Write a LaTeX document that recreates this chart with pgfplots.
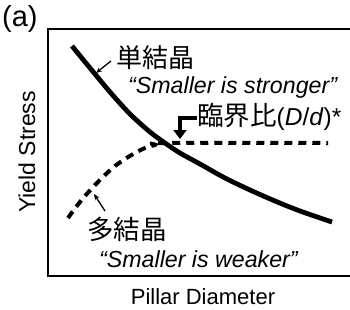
\documentclass[border=0pt]{standalone}
\usepackage{fontspec}
\setmainfont{Liberation Sans}
\newfontfamily\jp{Noto Sans CJK JP}
\usepackage{pgfplots}
\pgfplotsset{compat=1.18}
\usetikzlibrary{arrows.meta}
\begin{document}
\fontsize{22}{24}\selectfont
\begin{tikzpicture}[x=1pt,y=-1pt]
\useasboundingbox (0,0) rectangle (350,309);
\begin{axis}[
  at={(48pt,-276pt)}, anchor=south west,
  scale only axis, width=310pt, height=247pt,
  xmin=0, xmax=310, ymin=0, ymax=247,
  hide axis,
  clip=false,
]
\draw[line width=2pt, line cap=rect] (axis cs:310,247) -- (axis cs:0,247) -- (axis cs:0,0) -- (axis cs:310,0);
\addplot[black, line width=4.8pt, smooth, line cap=butt] coordinates {
(24,230) (42,208) (62,184) (82,162) (102,144) (117,133) (132,123)
(152,112) (177,98) (202,86) (227,75) (252,65) (284,54)};
\addplot[black, line width=4pt, smooth, dash pattern=on 8pt off 6pt] coordinates {
(20,58) (28,69) (37,80) (47,91) (57,101) (67,110) (77,117) (87,123) (97,128) (107,131) (117,133) (280,133)};
\end{axis}
% annotation arrows
\draw[line width=1.3pt, -{Stealth[length=6pt,width=5pt]}] (111,61) -- (96,73);
\draw[line width=1.3pt, -{Stealth[length=6pt,width=5pt]}] (105,211) -- (94,194);
\draw[line width=3.5pt, -{Triangle[length=9pt,width=13pt]}] (197,118) -- (180,118) -- (180,139);
% texts
\node[anchor=west, inner sep=0, font=\fontsize{29}{31}\selectfont] at (2,19) {(a)};
\node[anchor=west, inner sep=0, font=\fontsize{26}{28}\selectfont] at (116,58) {\jp 単結晶};
\node[anchor=west, inner sep=0, font=\fontsize{23.2}{25}\selectfont] at (128,87) {\itshape “Smaller is stronger”};
\node[anchor=west, inner sep=0, font=\fontsize{24.5}{26}\selectfont] at (197,117) {{\jp\fontsize{26.5}{28}\selectfont 臨界比}(\textit{D}/\textit{d})*};
\node[anchor=west, inner sep=0, font=\fontsize{26.5}{28}\selectfont] at (87,229) {\jp 多結晶};
\node[anchor=west, inner sep=0, font=\fontsize{23.2}{25}\selectfont] at (99,259) {\itshape “Smaller is weaker”};
\node[anchor=center, inner sep=0] at (203,297) {Pillar Diameter};
\node[anchor=center, inner sep=0, rotate=90, font=\fontsize{23}{25}\selectfont] at (27,152) {Yield Stress};
\end{tikzpicture}
\end{document}
